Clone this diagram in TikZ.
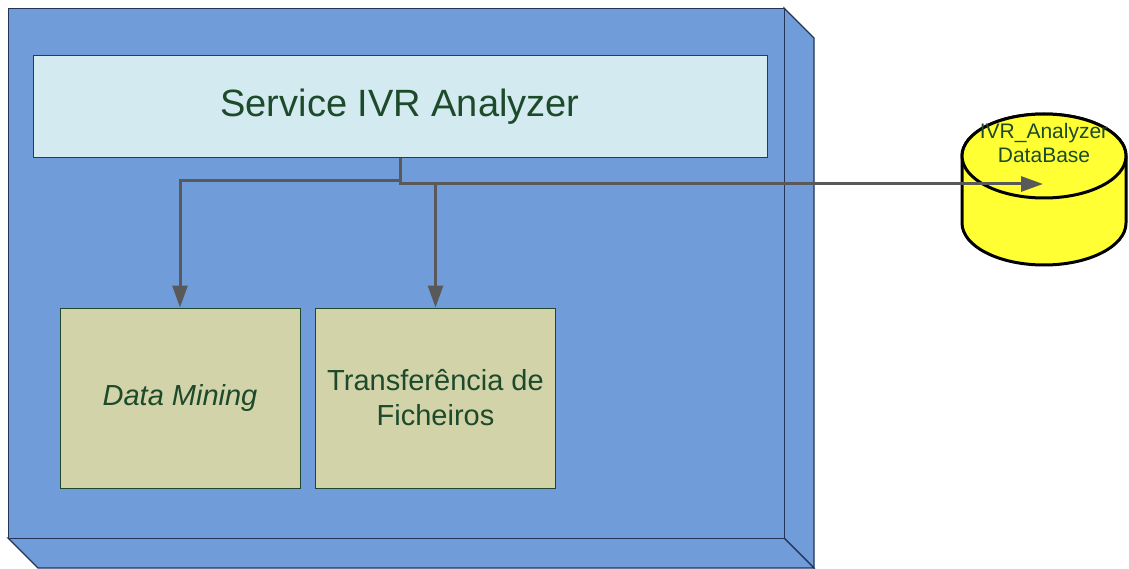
\documentclass[tikz,border=0pt]{standalone}
\usepackage{fontspec}
\setmainfont{Liberation Sans}
\usetikzlibrary{arrows.meta}
\definecolor{framefill}{RGB}{112,157,218}
\definecolor{frameline}{RGB}{35,52,85}
\definecolor{svcfill}{RGB}{210,234,240}
\definecolor{modfill}{RGB}{211,211,170}
\definecolor{boxline}{RGB}{30,72,45}
\definecolor{txt}{RGB}{28,74,42}
\definecolor{conn}{RGB}{89,89,89}
\definecolor{dbfill}{RGB}{255,255,51}

\begin{document}
\begin{tikzpicture}[x=1pt,y=-1pt,
  face/.style={fill=framefill,draw=frameline,line width=1.2pt,line join=miter},
  svcbox/.style={draw=boxline,fill=svcfill,line width=1pt,inner sep=0pt,
    minimum width=734pt,minimum height=102pt,text=txt,
    font=\fontsize{38}{44}\selectfont},
  modbox/.style={draw=boxline,fill=modfill,line width=1pt,inner sep=0pt,
    minimum width=240pt,minimum height=180pt,text=txt,align=center,
    font=\fontsize{29}{35}\selectfont},
  dbshape/.style={fill=dbfill,draw=black,line width=3pt},
  dblabel/.style={text=txt,align=center,inner sep=0pt,
    font=\fontsize{21}{24}\selectfont},
  flow/.style={draw=conn,line width=3pt,
    -{Triangle[length=22pt,width=15pt]}},
]
\useasboundingbox (0,0) rectangle (1129,569);

% three-dimensional node: right and bottom faces, then the front face
\coordinate (fNE) at (784,8);
\coordinate (fSE) at (784,538);
\coordinate (fSW) at (8,538);
\draw[face] (fNE) -- ++(30,30) -- (814,568) -- (fSE) -- cycle;
\draw[face] (fSW) -- (fSE) -- (814,568) -- (38,568) -- cycle;
\node[face,inner sep=0pt,minimum width=776pt,minimum height=530pt,
      anchor=north west] (frame) at (8,8) {};

% components
\node[svcbox] (svc) at (400,107) {Service IVR Analyzer};
\node[modbox] (dm) at (180,398) {\itshape Data Mining};
\node[modbox] (tf) at (435.5,398) {Transferência de\\Ficheiros};

% database cylinder
\path[dbshape] (962,156) -- (962,223)
  arc[start angle=180,end angle=0,x radius=82,y radius=42]
  -- (1126,156)
  arc[start angle=0,end angle=-180,x radius=82,y radius=42] -- cycle;
\path[dbshape] (1044,156) ellipse[x radius=82,y radius=42];
\node[dblabel] (db) at (1044,142.5) {IVR\_Analyzer\\DataBase};

% connectors
\coordinate (fork) at (400,181);
\coordinate (dbin) at (1043,184);
\draw[flow] (svc.south) |- (dbin);
\draw[flow] (fork) -| (dm.north);
\draw[flow] (tf.north |- dbin) -- (tf.north);
\end{tikzpicture}
\end{document}
